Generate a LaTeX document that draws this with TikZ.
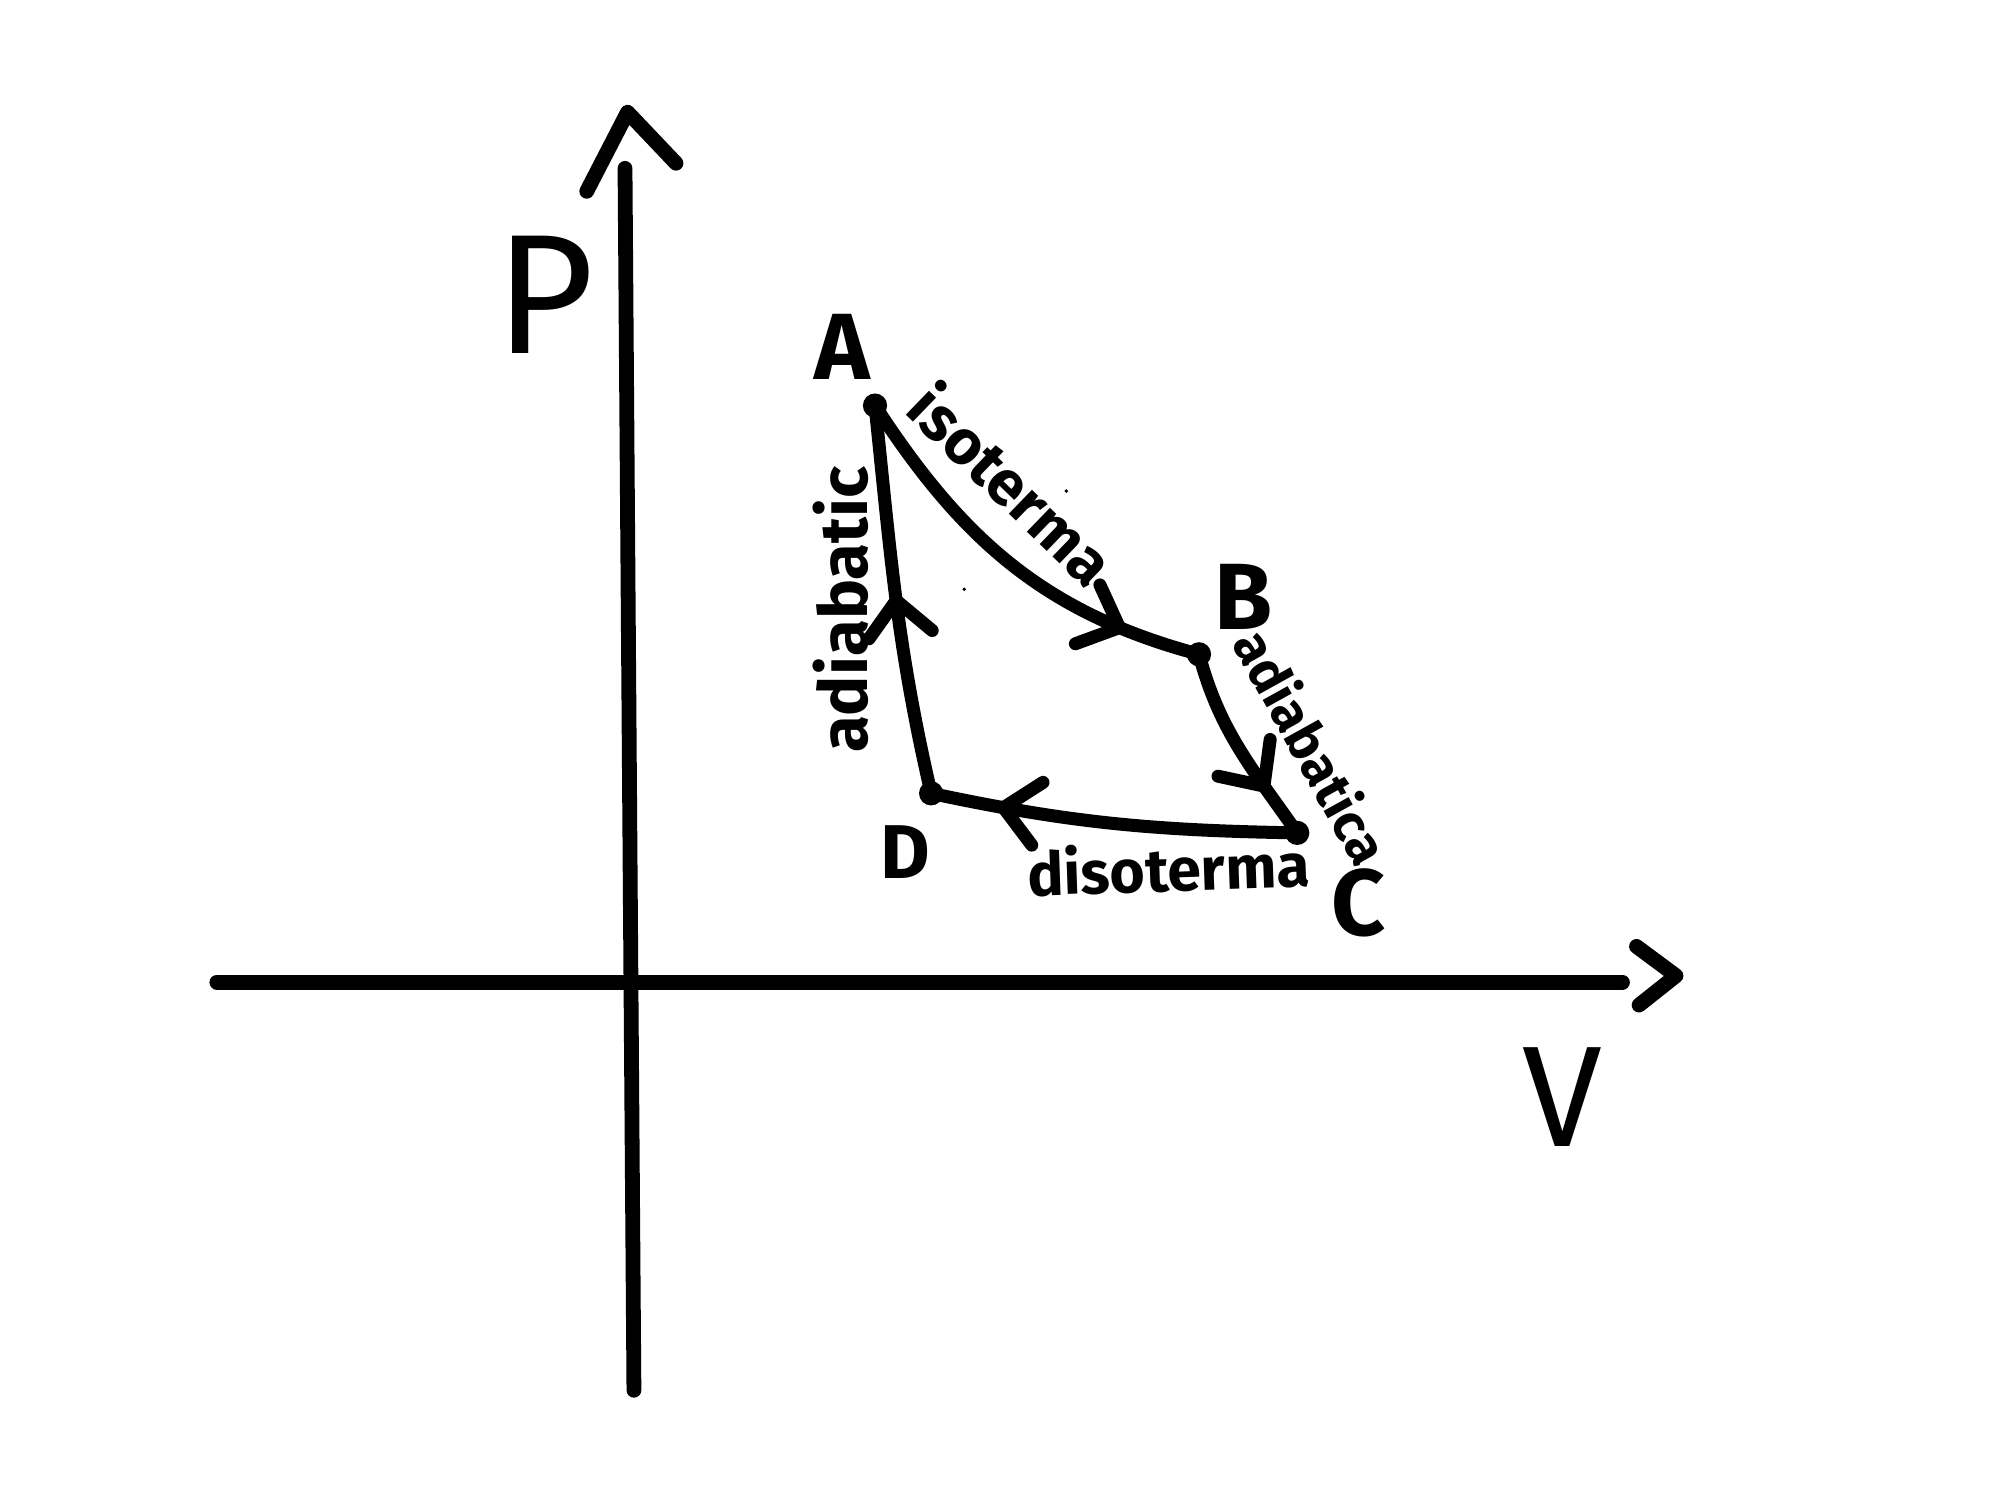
\documentclass[tikz,border=0pt]{standalone}
\usepackage{fontspec}
\setmainfont{Fira Sans}
\usetikzlibrary{decorations.markings}
\tikzset{
  stroke/.style={line width=2.9pt, line cap=round, line join=round},
  axisline/.style={line width=3.3pt, line cap=round, line join=round},
  ptdot/.style={circle, fill=black, inner sep=0pt, minimum size=0.19cm},
  biglabel/.style={font=\fontsize{21}{24}\selectfont\bfseries, inner sep=0pt},
  curvelabel/.style={font=\fontsize{14}{16}\selectfont\bfseries, inner sep=0pt},
  chev/.style={postaction={decorate, decoration={markings,
     mark=at position #1 with {\draw[line width=2.9pt, line cap=round, line join=round] (-0.27,0.25) -- (0,0) -- (-0.27,-0.25);}}}}
}
\begin{document}
\begin{tikzpicture}
\useasboundingbox (0,0) rectangle (15.68,11.76);
% axes
\coordinate (ybot) at (4.97,0.86);
\coordinate (ytop) at (4.90,10.44);
\coordinate (xl) at (1.70,4.06);
\coordinate (xr) at (12.72,4.06);
\coordinate (yal) at (4.60,10.26);
\coordinate (yap) at (4.92,10.88);
\coordinate (yar) at (5.30,10.48);
\coordinate (xat) at (12.83,4.34);
\coordinate (xap) at (13.14,4.11);
\coordinate (xab) at (12.85,3.88);
\draw[axisline] (ybot) -- (ytop);
\draw[axisline] (yal) -- (yap) -- (yar);
\draw[axisline] (xl) -- (xr);
\draw[axisline] (xat) -- (xap) -- (xab);
\node[font=\fontsize{38}{40}\selectfont, inner sep=0pt] (P) at (4.27,9.45) {P};
\node[font=\fontsize{32}{34}\selectfont, inner sep=0pt] (V) at (12.25,3.16) {V};
% cycle points
\node[ptdot] (A) at (6.86,8.58) {};
\node[ptdot] (B) at (9.40,6.63) {};
\node[ptdot] (C) at (10.17,5.23) {};
\node[ptdot] (D) at (7.30,5.54) {};
\node[biglabel] (Alab) at (6.60,9.04) {A};
\node[biglabel] (Blab) at (9.75,7.08) {B};
\node[biglabel] (Clab) at (10.65,4.68) {C};
\node[biglabel, font=\fontsize{17}{20}\selectfont\bfseries] (Dlab) at (7.10,5.08) {D};
% curves
\draw[stroke, chev=0.8] (A.center) to[out=-57, in=165] (B.center);
\draw[stroke, chev=0.72] (B.center) to[out=-75, in=125] (C.center);
\draw[stroke, chev=0.8] (C.center) to[out=179, in=-12] (D.center);
\draw[stroke, chev=0.5] (D.center) to[out=103, in=-84] (A.center);
% curve labels
\node[curvelabel, rotate=-44] (iso) at (7.94,7.97) {isoterma};
\node[curvelabel, rotate=-61, font=\fontsize{12}{14}\selectfont\bfseries] (adb) at (10.29,5.91) {adiabatica};
\node[curvelabel, rotate=90, font=\fontsize{15}{17}\selectfont\bfseries] (ada) at (6.59,6.98) {adiabatic};
\node[curvelabel, rotate=2, font=\fontsize{13.5}{16}\selectfont\bfseries] (diso) at (9.16,4.96) {disoterma};
% stray specks
\fill (8.36,7.91) circle (0.015);
\fill (7.56,7.14) circle (0.015);
\end{tikzpicture}
\end{document}
